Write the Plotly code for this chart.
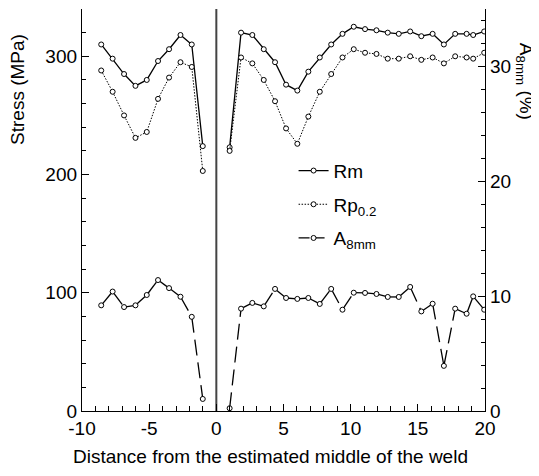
import plotly.graph_objects as go

# ---- data ----
x_left = [-8.57, -7.72, -6.87, -6.02, -5.18, -4.34, -3.52, -2.67, -1.83, -1.01]
rm_left = [310, 298, 285, 275, 280, 296, 306, 318, 310, 224]
rp_left = [288, 270, 250, 231, 236, 264, 282, 295, 291, 203]
a8_left = [9.2, 10.4, 9.05, 9.2, 10.1, 11.4, 10.7, 9.95, 8.2, 1.05]

x_right = [0.99, 1.84, 2.68, 3.53, 4.37, 5.19, 6.03, 6.85, 7.7, 8.55, 9.39, 10.23,
           11.07, 11.92, 12.76, 13.58, 14.43, 15.26, 16.1, 16.94, 17.78, 18.63, 19.12, 19.94]
rm_right = [223, 320, 318, 306, 295, 276, 271, 287, 299, 310, 319, 325,
            323, 322, 320, 319, 321, 317, 319, 310, 319, 319, 318, 321]
rp_right = [220, 299, 294, 280, 262, 239, 226, 249, 270, 285, 299, 306,
            303, 302, 298, 298, 300, 297, 299, 294, 300, 299, 298, 303]
a8_right = [0.24, 8.91, 9.41, 9.11, 10.63, 9.84, 9.76, 9.84, 9.32, 10.63, 8.82, 10.3,
            10.28, 10.19, 9.93, 9.93, 10.8, 8.67, 9.34, 3.93, 8.91, 8.47, 9.98, 8.82]

x_ticks = [-10, -5, 0, 5, 10, 15, 20]
stress_ticks = [0, 100, 200, 300]
a8_ticks = [0, 10, 20, 30]

names = ["Rm", "Rp<sub>0.2</sub>", "A<sub>8mm</sub>"]

FONT = "Liberation Sans, Arial, sans-serif"
marker = dict(symbol="circle", size=5, color="white", line=dict(color="black", width=1))

fig = go.Figure()

x_all = x_left + [None] + x_right
fig.add_trace(go.Scatter(
    x=x_all, y=rm_left + [None] + rm_right, mode="lines+markers", name=names[0],
    line=dict(color="black", width=1.3), marker=marker, legendgroup="rm",
    connectgaps=False))
fig.add_trace(go.Scatter(
    x=x_all, y=rp_left + [None] + rp_right, mode="lines+markers", name=names[1],
    line=dict(color="black", width=1, dash="1.5px,1.5px"), marker=marker,
    legendgroup="rp", connectgaps=False))

# A8mm: dash pattern restarts per segment
a_dash = "16px,7px"
for xs, ys in ((x_left, a8_left), (x_right, a8_right)):
    for i in range(len(xs) - 1):
        fig.add_trace(go.Scatter(
            x=[xs[i], xs[i + 1]], y=[ys[i], ys[i + 1]], mode="lines",
            line=dict(color="black", width=1.3, dash=a_dash), yaxis="y2",
            showlegend=False, hoverinfo="skip"))
fig.add_trace(go.Scatter(
    x=x_all, y=a8_left + [None] + a8_right, mode="markers", marker=marker,
    yaxis="y2", showlegend=False))
fig.add_trace(go.Scatter(
    x=[None], y=[None], mode="lines+markers", name=names[2], yaxis="y2",
    line=dict(color="black", width=1.3, dash="11px,4px"), marker=marker,
    legendgroup="a"))

fig.add_shape(type="line", xref="x", yref="paper", x0=0, x1=0, y0=0, y1=1,
              line=dict(color="#444444", width=2), layer="below")

axis_common = dict(
    showline=True, linecolor="black", linewidth=1.3, ticks="inside",
    tickcolor="black", ticklen=7, tickwidth=1.2, showgrid=False, zeroline=False,
    tickfont=dict(family=FONT, size=19, color="black"))

# the page body adds an 8px offset, so the figure is sized to fit the window
fig.update_layout(
    width=531, height=468,
    margin=dict(l=74, r=54, t=1, b=65),
    paper_bgcolor="white", plot_bgcolor="white",
    font=dict(family=FONT, size=19, color="black"),
    showlegend=True,
    legend=dict(x=0.525, y=0.645, xanchor="left", yanchor="top",
                bgcolor="rgba(0,0,0,0)", font=dict(family=FONT, size=19),
                tracegroupgap=6, traceorder="grouped"),
    xaxis=dict(range=[-10, 20], tickvals=x_ticks, ticktext=[str(v) for v in x_ticks],
               minor=dict(dtick=1, ticks="inside", ticklen=5, tickcolor="black"),
               **axis_common),
    yaxis=dict(range=[0, 340], tickvals=stress_ticks,
               minor=dict(dtick=20, ticks="inside", ticklen=4, tickcolor="black"),
               **axis_common),
    yaxis2=dict(range=[0, 35], tickvals=a8_ticks, overlaying="y", side="right",
                minor=dict(dtick=2, ticks="inside", ticklen=4, tickcolor="black"),
                **axis_common),
)

fig.add_annotation(text="Stress (MPa)", xref="paper", yref="paper", x=-0.16, y=0.80,
                   xanchor="center", yanchor="middle",
                   textangle=-90, showarrow=False, font=dict(family=FONT, size=19))
fig.add_annotation(text="A<sub>8mm</sub> (%)", xref="paper", yref="paper", x=1.098, y=0.82,
                   xanchor="center", yanchor="middle",
                   textangle=90, showarrow=False, font=dict(family=FONT, size=19))
fig.add_annotation(text="Distance from the estimated middle of the weld", xref="paper",
                   yref="paper", x=0.467, y=-0.112, xanchor="center", yanchor="middle",
                   showarrow=False, font=dict(family=FONT, size=19))

fig.write_html("out.html")
